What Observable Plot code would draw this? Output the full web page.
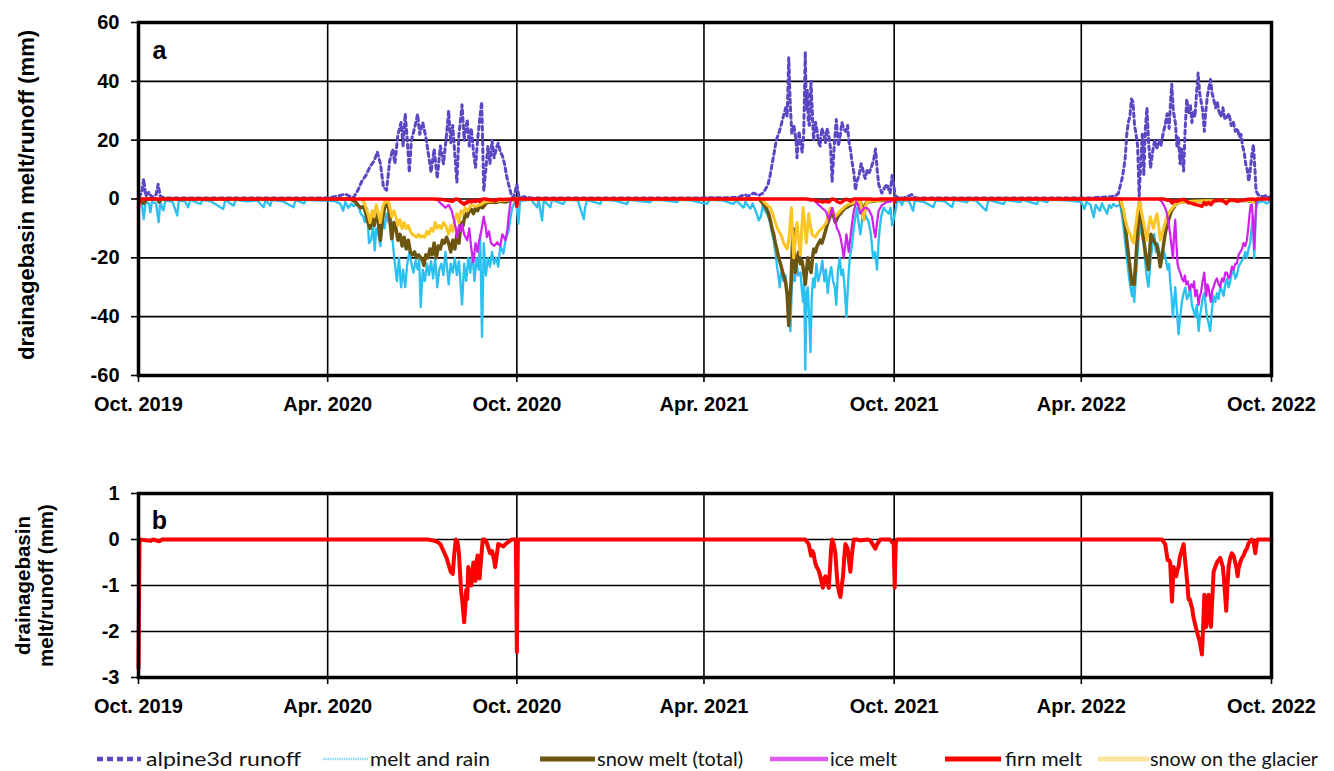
<!DOCTYPE html>
<html><head><meta charset="utf-8">
<script src="https://cdn.jsdelivr.net/npm/d3@7"></script>
<script src="https://cdn.jsdelivr.net/npm/@observablehq/plot@0.6"></script>
<style>
body{margin:0;background:#fff;}
#wrap{position:relative;width:1334px;height:771px;overflow:hidden;background:#fff;}
#wrap > svg{position:absolute;left:0;}
</style></head><body><div id="wrap"></div>
<script>
// ---- axis ticks (days after 1 Oct 2019) ----
const tickDays = [0, 183, 366, 547, 731, 912, 1096];
const tickLabels = ["Oct. 2019","Apr. 2020","Oct. 2020","Apr. 2021","Oct. 2021","Apr. 2022","Oct. 2022"];
const yTicksA = [-60,-40,-20,0,20,40,60];
const yTicksB = [-3,-2,-1,0,1];
const seriesNames = ["alpine3d runoff","melt and rain","snow melt (total)","ice melt","firn melt","snow on the glacier"];

// ---- series: [day after 1 Oct 2019, mm] ----
const runoff = [[0,0.5],[3,2],[5,6.8],[7,1],[10,2.3],[13,0.5],[17,1.5],[19,5],[21,1],[25,0.3],[60,0.3],[120,0.3],[180,0.3],
[186,0.5],[195,1.2],[200,1.7],[205,0.8],[208,0.5],[212,2.8],[216,6],[220,8],[224,11],[228,13],[231,16],[234,12],[237,4],[240,3],[243,13],[246,17],[248,12],[251,22],[254,26],[256,18],[258,29],[260,20],[262,9],[264,20],[267,24],[270,28.8],[272,22],[275,26],[278,21],[281,14],[283,9],[286,17],[289,7],[292,18],[295,12],[298,22],[300,30],[302,19],[304,25],[306,15],[308,5.6],[310,22],[313,32],[315,20],[318,27],[320,18],[322,24],[324,16],[326,10.7],[328,20],[330,27],[332,33],[334,2.8],[336,10],[338,18],[340,12],[342,20],[344,14],[346,17],[348,19],[350,16],[352,14.7],[354,12],[356,8],[358,5],[361,1],[363,0.5],[366,5],[368,1],[371,0.5],
[373,0.8],[380,0.3],[450,0.3],[520,0.3],[580,0.5],[586,1.5],[590,1],[595,2],[600,1.2],[604,2],[606,3],
[609,5],[611,8],[614,14],[617,20],[620,23],[623,27],[626,31],[627.5,28],[629,48],[630.5,32],[632,22],[634,25],[636,20],[637,14],[639,23],[640,20],[642,16],[643.5,22],[645,50],[646,30],[647,37],[648,26],[649,25],[650.5,40],[652,28],[653,20],[655,26],[656.5,23],[658,19],[659.5,18],[661,24],[663,22],[664.5,19],[666,24],[668,21],[669.5,17],[671,6],[673,18],[675,27],[677,18],[679,22],[680.5,26],[682,24],[684,23],[686,25],[687,20],[689,16],[690,13],[692,9],[693.5,3],[695,6],[697,8],[699,12],[700,11],[702,8],[703,7],[705,10],[707,9],[709,11],[711,13],[713,17],[714.5,10],[716,5],[718,3],[719,2],[722,4],[724,5],[726,3],[727,2],[729,8],[730.5,5],[732,1],[735,0.5],[740,0.3],[748,1.5],[751,0.5],[753,0.3],
[800,0.3],[870,0.3],[920,0.3],[930,0.6],[940,0.8],[945,1],
[948,2],[950,5],[951.5,7],[953,10],[954.5,14],[956,22],[957.5,26],[959,28],[960.5,34],[962,33],[963.5,25],[965,22],[966.5,18],[968,1],[969.5,12],[971,22],[972.5,8],[974,24],[975.5,31],[977,20],[979,10.6],[981,16],[983,20],[985,17],[987,20],[989,18],[991,22],[993,25],[995,29],[997,24],[998.5,34],[999.5,39],[1001,30],[1003,26],[1004.5,18],[1006,21],[1007.5,12],[1009,17],[1011,9.5],[1012.5,24],[1014,34],[1016,29],[1017.5,32],[1019,26],[1020.5,30],[1022,28],[1023.5,36],[1025,42.8],[1026.5,36],[1028,33],[1029.5,30],[1031,23],[1032.5,30],[1034,35],[1035.5,38],[1037,40.6],[1038.5,36],[1040,34],[1042,31],[1043.5,33],[1045,30],[1047,28],[1049,31],[1051,27],[1053,28],[1055,29],[1057,25],[1059,26.4],[1061,23],[1063,24],[1065,21],[1066.5,22],[1068,18],[1069.5,16],[1071,12],[1072.5,10],[1074,6],[1075.5,10],[1077,15],[1078.5,18.5],[1080,10],[1081,2.8],[1083,1.5],[1085,1],[1088,0.8],[1091,1.2],[1093,0.6],[1096,0.5]];

const meltRain = [[0,-0.5],[3,-1],[5,-6.8],[7,-1],[10,-1.5],[11.5,-4.5],[13,-1],[17,-1.5],[19.5,-8],[21,-1],[24,-4],[26,-0.5],[33,-1],[37.5,-5.6],[39,-0.5],[45,-0.8],[48,-2.8],[50,-0.3],[60,-1.7],[62,-0.3],[70,-0.8],[82,-3.4],[84,-0.3],[92,-2.3],[94,-0.3],[105,-0.8],[115,-0.5],[121,-2.8],[123,-0.3],[127.5,-2.3],[129,-0.3],[140,-0.8],[150,-2.8],[152,-0.3],[160,-1.5],[162,-0.3],[175,-0.5],[183,-0.5],
[190,-0.8],[195,-1.5],[198,-4],[200,-1],[203,-3],[206,-1.5],[208,-2.5],[212,-1.5],[215,-5],[217.5,-6],[219,-8],[221,-3],[223,-15],[225,-14],[227,-9],[228.5,-17.5],[230,-10],[232,-12],[234,-16],[236,-6],[238,-10],[240,-5],[242,-8],[244,-6],[246,-15],[248,-22],[250,-28],[252,-20],[254,-30],[256,-24],[258,-30],[260,-22],[262,-18],[264,-22],[266,-25],[268,-21],[270,-24],[271.5,-20],[273,-36.7],[275,-24],[277,-28],[279,-22],[281,-26],[283,-21],[285,-27],[287,-20],[289,-30],[291,-24],[293,-22],[295,-26],[297,-18],[300,-29],[302,-22],[304,-25],[306,-20],[308,-26],[310,-21],[313,-36],[315,-22],[317,-28],[319,-20],[321,-25],[323,-18],[325,-28],[327,-20],[329,-24],[330.5,-12],[332.3,-47],[334,-15],[336,-26],[338,-20],[340,-23],[342,-18],[344,-22],[346,-20],[348,-23],[350,-16],[353,-18.6],[355,-14],[358,-10.7],[360,-6],[361.5,-3],[364,-1],[366,-3],[367.5,-8.5],[369,-1],
[372,-0.5],[380,-0.3],[385.5,-2.8],[387,-0.3],[390.4,-7.3],[392,-0.5],[398.4,-2.8],[400,-0.3],[411,-1.7],[413,-0.3],[425,-0.5],[430.7,-6.8],[432,-3],[434,-0.3],[446.8,-1.7],[448,-0.3],[460,-0.5],[472.6,-1.7],[474,-0.3],[495,-1.1],[497,-0.3],[510,-0.5],[521,-1.1],[523,-0.3],[535,-0.5],[550,-1.7],[552,-0.3],[565,-0.5],[575.7,-1.7],[578,-0.5],[585.5,-3],[587,-1],[592,-3.4],[594,-1.5],[598,-5],[600,-7.3],[602,-6],[604,-2],[606,-4],[608,-5],
[611,-8],[613,-12],[614.5,-14],[616,-18],[617.7,-23],[619,-26],[620.3,-30],[622,-24],[624,-28],[626,-26],[627.4,-33],[629,-36],[630.6,-45],[632,-30],[633.5,-25],[635,-28],[636.4,-20],[638,-26],[640.3,-25],[641.5,-30],[642.9,-35],[644,-28],[645,-58],[646.3,-32],[647.4,-30],[648.8,-40],[650,-52],[651.3,-33],[652.5,-27],[654,-30],[655.8,-22],[657.5,-28],[659.6,-25],[661.5,-21],[663.5,-28],[665,-24],[666.7,-32],[668.5,-26],[670,-23],[672,-28],[673.5,-30],[675,-36],[676.5,-25],[678.3,-20],[680,-26],[681.5,-24],[683,-30],[684.8,-40],[686.5,-28],[688,-20],[690,-16],[691.9,-10],[693.5,-6],[695,-3],[696.5,-8],[698.3,-12],[700,-7],[702,-5],[704,-6],[706.4,-8],[708.5,-12],[710.6,-20],[712.5,-18],[714.4,-24],[716,-14],[717.6,-8],[719,-5],[720.9,-3],[723,-4],[725.7,-5],[727.5,-3],[729,-9],[731.2,-6],[733.8,-1],[736,-0.5],[738.6,-2],[740,-0.5],
[745,-0.5],[749.3,-4],[751,-0.5],[760,-1],[769,-2.8],[771,-0.5],[780,-0.8],[787,-2.8],[789,-0.3],[801.5,-1.1],[803,-0.3],[810,-0.5],[820,-4],[822,-0.3],[837,-1.7],[839,-0.3],[853,-1.1],[855,-0.3],[869,-1.7],[871,-0.3],[879,-1.1],[881,-0.3],[900,-0.5],[912,-1],[915,-3.4],[917,-1],[921,-2],[924,-6.2],[926,-2],[928,-3],[930,-4],[932,-1.5],[934,-3],[937,-5],[939,-2],[941,-3],[943,-1.7],[946,-2.5],[949.7,-2],
[951.5,-6],[953,-10],[954.5,-15],[956,-20],[957.3,-24],[958.7,-28],[960,-31],[961,-33],[962,-30],[963.2,-35],[964.5,-28],[965.8,-22],[967.3,-14],[969,-8],[970.5,-12],[972.3,-15],[973.5,-20],[974.8,-25],[976,-28],[977,-30],[978.2,-24],[979.3,-20],[981,-15],[982.6,-12],[984.2,-18],[985.8,-15],[987.5,-18],[989,-22],[990.5,-20],[992.2,-18],[994,-21],[995.5,-24],[997,-22],[998,-28],[999.3,-33],[1000.6,-40],[1002,-34],[1002.9,-30],[1004.5,-38],[1006.1,-46],[1007.7,-40],[1009.3,-35],[1011,-32],[1012.6,-30],[1014.2,-34],[1015.8,-33],[1017.4,-30],[1019,-36],[1020.6,-38],[1022.2,-40],[1023.8,-36],[1025.5,-45],[1026.7,-40],[1027.7,-38],[1029.3,-34],[1031,-32],[1032.3,-36],[1033.5,-40],[1035,-42],[1036.7,-45],[1038.3,-38],[1040,-33],[1041.6,-35],[1043.2,-32],[1044.8,-34],[1046.4,-30],[1048,-31],[1049.6,-33],[1051.3,-29],[1052.9,-27],[1054.5,-30],[1056,-28],[1057.7,-25],[1059.3,-24],[1061,-27],[1062.5,-26],[1064.2,-23],[1065.8,-22],[1067.4,-21],[1069,-20],[1070.6,-18],[1072.2,-20],[1073.8,-17],[1075.4,-15],[1076.7,-10],[1078,-6],[1079.3,-20],[1080.3,-10],[1081.2,-3],[1083,-1],[1085,-1],[1088,-0.8],[1091.5,-1.5],[1094,-0.8],[1096,-1]];

const snowMelt = [[0,0],[3,-1],[5,-1.5],[8,0],[18,0],[20,-1],[22,0],
[205,0],[210,-1],[212,-2],[215,-3],[218,-2.5],[220,-5],[222,-8],[224,-10],[226,-6],[228,-9],[230,-4],[232,-8],[234,-14],[236,-7],[238,-3],[240,-2],[242,-3],[245,-13.5],[247,-8],[249,-10],[251,-14],[253,-12],[255,-16],[257,-13],[259,-17],[261,-14],[263,-18],[265,-19],[267,-18],[269,-20],[271,-19],[273,-20],[275,-21],[276,-22.6],[278,-19],[280,-20],[282,-17],[284,-19],[286,-15],[288,-20],[290,-16],[292,-17],[294,-14],[296,-15],[298,-13],[300,-15],[302,-18],[304,-14],[306,-17],[308,-12],[310,-15],[312,-8],[314,-9],[316,-5],[318,-6],[320,-4],[322,-3.5],[324,-5],[326,-3],[328,-4],[330,-2.5],[333,-3],[336,-1.5],[340,-1],[345,-1.2],[350,-0.8],[355,-1],[360,-0.5],[364,0],
[600,0],[603,-1],[605,-2],[607,-3],[609.6,-5],[611,-7],[612.9,-10],[614.5,-12],[616,-15],[617.5,-17],[619.3,-20],[621,-22],[622.5,-24],[624,-26],[625.8,-28],[627.4,-32],[629,-43],[630.2,-34],[631.3,-28],[632.3,-18],[633.2,-10],[634.3,-18],[635.4,-25],[637,-20],[638.7,-18],[640.3,-22],[641.9,-21],[643.5,-25],[645.1,-29],[646.3,-24],[647.4,-20],[649,-23],[650.6,-25],[652,-20],[653.2,-17],[655,-18],[656.4,-16],[658,-15],[659.6,-14],[661.2,-15],[662.8,-13],[664.5,-11],[666,-9],[668,-7],[670.9,-4],[672.5,-6],[674.1,-8],[676.5,-6],[679,-5],[681,-4],[683.8,-3],[687,-2.5],[691.9,-1.5],[695,-1.2],[698.3,-1],[700,-3],[701.5,-7],[703,-2],[704.7,-1],[710,-0.8],[714.4,-0.5],[720,-0.5],[725,-0.3],[730,0],
[949,0],[951,-2],[953,-5],[954.5,-9],[956,-14],[957.3,-18],[958.7,-22],[960,-26],[961,-29],[962,-27],[963.2,-29],[964.5,-22],[965.8,-15],[967,-8],[968.3,-1],[970,-6],[971.6,-12],[973.2,-16],[974.8,-20],[976,-22],[977,-24],[978.2,-18],[979.3,-12],[980.6,-13],[981.9,-14],[983.5,-15],[985.2,-16],[986.8,-19],[988.4,-23],[989.7,-20],[991,-17],[992.6,-13],[994.2,-10],[995.8,-8],[997.4,-6],[999.3,-4],[1001.3,-3],[1002.9,-2],[1004.5,-1.5],[1008,-1],[1015,-0.8],[1025,-0.6],[1040,-0.5],[1055,-0.5],[1070,-0.4],[1078,-0.8],[1079.3,-1],[1081,-0.3],[1085,0]];

const snowGlacier = [[215,0],[218,-1],[220,-3],[222,-5],[224,-8],[226,-4],[228,-6],[230,-2],[232,-5],[234,-8],[236,-3],[238,-1],[242,-1],[245,-6],[247,-4],[249,-6],[251,-9],[253,-7],[255,-10],[257,-8],[259,-10],[261,-9],[263,-11],[265,-12],[267,-12.5],[269,-13],[271,-12],[273,-13],[275,-12.5],[277,-13],[279,-11],[281,-12],[283,-10],[285,-11],[287,-8],[289,-10],[291,-9],[293,-10],[295,-8],[297,-9],[300,-12],[302,-9],[304,-11],[306,-7],[308,-5],[310,-8],[312,-4],[314,-5],[316,-3],[318,-4],[320,-3],[322,-2],[326,-2.5],[330,-2],[335,-1],[340,-0.8],[350,-0.6],[360,-0.3],[364,0],
[603,0],[605,-1],[608,-2],[611.3,-3],[613.5,-5],[616,-8],[618,-10],[621,-12],[622.5,-13],[624,-15],[625.8,-16],[627.4,-17],[628.5,-15],[629.6,-12],[630.6,-7],[631.6,-3],[632.7,-12],[633.8,-20],[635.4,-14],[637,-8],[638.7,-14],[640.3,-19],[641.6,-10],[642.9,-3],[644.5,-9],[646,-15],[647.2,-10],[648.3,-5],[650,-9],[651.6,-12],[653.2,-12.5],[654.8,-13],[656.4,-12],[658,-11],[659.6,-10.5],[661.2,-10],[663.3,-9],[665.4,-8],[667.4,-5],[669.3,-3],[671.7,-4],[674.1,-6],[676.5,-5],[679,-4],[682,-3],[685.4,-2],[690,-1.5],[695,-1],[698.3,-1],[700,-4],[701.5,-7],[702.8,-3],[704.7,-1],[710,-0.6],[714.4,-0.5],[720,-0.3],[725,-0.2],[730,0],
[950,0],[951.3,-2],[953,-4],[954.5,-7],[956,-9],[957.7,-11],[959.4,-12],[961,-14],[962.6,-15],[964.2,-10],[965.8,-6],[967,-3],[968.3,-1],[970,-4],[972.3,-8],[974,-11],[975.5,-14],[977,-10],[978.7,-6],[980.3,-8],[981.9,-10],[983.5,-7],[985.2,-5],[986.8,-9],[988.4,-14],[990,-12],[991.6,-10],[993.2,-8],[994.8,-6],[996.4,-5],[998,-4],[1000.5,-3],[1002.9,-2],[1006,-1.2],[1010,-1],[1020,-0.8],[1030,-0.6],[1045,-0.5],[1060,-0.4],[1070,-0.4],[1076,-0.5],[1078,-1],[1079.3,-1.2],[1081,-0.3],[1085,0]];

const iceMelt = [[288,0],[291,-1],[294,-2],[297,-3],[300,-2],[303,-4],[305,-7],[307,-10],[308,-13],[310,-9],[312,-11],[313,-8.5],[315,-12],[318,-14],[320,-10],[322,-17],[324,-21.5],[326,-15],[328,-18],[329,-15],[331,-12],[333,-8],[334,-6],[336,-10],[337,-13],[339,-11],[341,-15],[344,-16],[347,-14.7],[350,-16],[352,-12],[355,-14],[357,-10],[358,-6],[360,-0.5],[362,0],
[653,0],[655,-1],[658,-2],[661,-3],[664.5,-4],[666,-5],[667.7,-7],[669.3,-5],[671,-3],[673,-6],[675.7,-10],[677.3,-11],[679,-13],[680.6,-16],[682.2,-20],[683.5,-16],[684.8,-12],[686,-15],[687,-18],[688.7,-13],[690.3,-8],[692,-4],[694.4,-1],[696,-2],[698.3,-5],[700,-4],[702,-3],[704.7,-3],[707,-4],[709.6,-6],[711.2,-10],[712.8,-13],[714.4,-8],[716,-4],[719.3,-2],[722,-1.5],[724,-1],[727,-1],[730,0],
[987,0],[988.4,-0.5],[990,-1],[991.6,-2],[993,-3],[994.2,-4],[995.3,-6],[996.4,-8],[997.2,-10],[998,-12],[999.3,-16],[1000.6,-20],[1001.8,-12],[1002.9,-7],[1004,-15],[1005.1,-22],[1006.4,-24],[1007.7,-25],[1009.3,-27],[1010.9,-28],[1012.2,-26],[1013.5,-29],[1015.1,-28],[1016.7,-31],[1018.4,-29],[1020,-30],[1021.1,-28],[1022.2,-33],[1023.8,-31],[1025.5,-36],[1026.6,-33],[1027.7,-32],[1029.3,-28],[1031,-25],[1032,-30],[1032.9,-33],[1034,-29],[1035.1,-30],[1036.3,-33],[1037.4,-35],[1038.7,-31],[1040,-30],[1041.6,-28],[1043.2,-27],[1044.8,-29],[1046.4,-30],[1048,-27],[1049.6,-28],[1051.3,-25],[1052.9,-25],[1054.5,-27],[1056,-26],[1057.7,-23],[1059.3,-24],[1061,-22],[1062.5,-22],[1064.2,-19],[1065.8,-18],[1067.4,-17],[1069,-15],[1070.6,-16],[1072.2,-14],[1073.5,-10],[1074.8,-5],[1076,-2],[1077,-2],[1078.2,-8],[1079.3,-17],[1080.3,-8],[1081.2,-1],[1083,0]];

const firnMelt = [[0,-2.8],[1,0],[12,-0.03],[14,0],[20,-0.04],[23,0],[280,0],
[285,-0.02],[289,-0.05],[292,-0.1],[294,-0.2],[296,-0.3],[298,-0.4],[300,-0.55],[302,-0.7],[304,-0.75],[305.5,-0.3],[307,0],[308.5,-0.05],[310,-0.3],[312,-1.1],[313.5,-1.4],[315,-1.8],[316,-1.5],[317,-1.1],[318,-1.3],[319,-0.6],[320.5,-0.8],[322,-1.0],[323,-0.7],[324,-0.5],[325,-0.8],[326,-0.9],[327,-0.5],[328,-0.35],[329,-0.6],[330,-0.85],[331.5,-0.4],[333,0],[335,0],[336.5,-0.05],[338,-0.15],[340,-0.3],[342,-0.25],[344,-0.45],[345,-0.6],[346.5,-0.35],[348,-0.1],[350,-0.12],[353,-0.15],[356,-0.08],[358,-0.05],[361,0],[365,0],[366,-2.45],[367,0],
[645,0],[648.3,-0.1],[650.6,-0.35],[652,-0.25],[653,-0.3],[654.5,-0.5],[656,-0.6],[657.5,-0.65],[659,-0.75],[660.5,-0.9],[662,-1.05],[663.3,-0.85],[664.5,-0.8],[666,-0.9],[667.7,-1.05],[669,-0.6],[670,-0.2],[671,0],[672.5,-0.1],[674.1,-0.3],[675.3,-0.7],[676.4,-1.0],[677.8,-1.15],[679,-1.25],[680.3,-1.0],[681.5,-0.8],[682.7,-0.4],[683.8,-0.1],[685,-0.15],[686,-0.2],[687.3,-0.45],[688.6,-0.7],[690,-0.35],[691.9,0],[695,0],[698,-0.02],[705,0],[708,-0.02],[710,-0.1],[712.8,-0.2],[714.5,-0.1],[717.6,0],[727,0],[730.5,-0.1],[731.5,-1.05],[732.5,-0.1],[733.5,0],
[990,0],[993.2,-0.1],[995.5,-0.45],[997,-0.45],[998,-0.5],[999.7,-1.35],[1001.3,-0.6],[1002.5,-0.7],[1003.8,-0.8],[1005,-0.65],[1006.1,-0.6],[1007.2,-0.4],[1008.4,-0.3],[1009.7,-0.2],[1011,-0.1],[1012.2,-0.4],[1013.5,-0.7],[1014.7,-1.0],[1015.8,-1.3],[1017,-1.3],[1018,-1.4],[1019.3,-1.5],[1020.6,-1.7],[1022.2,-1.85],[1023.8,-2.0],[1025,-2.1],[1026.4,-2.2],[1027.6,-2.35],[1028.7,-2.5],[1029.9,-1.9],[1031,-1.2],[1032,-1.5],[1032.9,-1.9],[1034,-1.5],[1035.1,-1.2],[1036.2,-1.6],[1037.4,-1.9],[1038.7,-1.3],[1040,-0.7],[1041.6,-0.6],[1043.2,-0.5],[1044.8,-0.45],[1046.4,-0.4],[1047.7,-0.5],[1049,-0.6],[1050.5,-1.0],[1052.2,-1.55],[1053.4,-1.0],[1054.5,-0.6],[1056,-0.4],[1057.7,-0.3],[1059.3,-0.35],[1060.9,-0.5],[1062,-0.6],[1063.2,-0.8],[1064.4,-0.6],[1065.7,-0.5],[1067.4,-0.4],[1069,-0.35],[1070.6,-0.25],[1072.2,-0.2],[1073.5,-0.1],[1074.8,-0.05],[1077,0],[1078.5,-0.05],[1080.3,-0.3],[1081.5,-0.1],[1082.5,0],[1096,0]];

// ---- helpers / styling ----
const START = Date.UTC(2019, 9, 1);
const toDate = d => new Date(START + d * 864e5);
const tickDates = tickDays.map(toDate);
const fmtX = d => tickLabels[tickDates.findIndex(t => +t === +d)];
const FONT = "'Liberation Sans', Arial, sans-serif";
const C = {runoff:"#5A47C3", melt:"#2CC0F0", snow:"#6B5510", ice:"#CF20EE", firn:"#FF0000", glacier:"#FBC525", glacierLegend:"#FCE3A2"};
const X = d => toDate(d[0]), Y = d => d[1];

function panel({height, marginTop, marginBottom, yDomain, yTicks, marks}) {
  return Plot.plot({
    width: 1334, height, marginLeft: 138, marginRight: 63, marginTop, marginBottom,
    style: {fontFamily: FONT, fontSize: "20px", fontWeight: "bold", color: "#000", background: "transparent", overflow: "visible"},
    x: {type: "utc", domain: [toDate(0), toDate(1096)]},
    y: {domain: yDomain},
    marks: [
      Plot.gridX(tickDates, {stroke: "#000", strokeOpacity: 1, strokeWidth: 1.6}),
      Plot.gridY(yTicks, {stroke: "#000", strokeOpacity: 1, strokeWidth: 1.6}),
      ...marks,
      Plot.frame({stroke: "#000", strokeWidth: 3.5}),
      Plot.axisX(tickDates, {tickFormat: fmtX, tickSize: 7, tickPadding: 14, strokeWidth: 1.6, label: null}),
      Plot.axisY(yTicks, {tickFormat: d => String(d), tickSize: 7, tickPadding: 12, strokeWidth: 1.6, label: null})
    ]
  });
}

const wrap = document.getElementById("wrap");

const a = panel({
  height: 420, marginTop: 22, marginBottom: 45, yDomain: [-60, 60], yTicks: yTicksA,
  marks: [
    Plot.line(meltRain, {x: X, y: Y, stroke: C.melt, strokeWidth: 2.4, strokeDasharray: "2.5,1.2"}),
    Plot.line(snowMelt, {x: X, y: Y, stroke: C.snow, strokeWidth: 3.5}),
    Plot.line(snowGlacier, {x: X, y: Y, stroke: C.glacier, strokeWidth: 3}),
    Plot.line(iceMelt, {x: X, y: Y, stroke: C.ice, strokeWidth: 2.2}),
    Plot.line(runoff, {x: X, y: Y, stroke: C.runoff, strokeWidth: 3, strokeDasharray: "4,3.5"}),
    Plot.line(firnMelt, {x: X, y: Y, stroke: C.firn, strokeWidth: 3.5}),
    Plot.text(["a"], {frameAnchor: "top-left", dx: 21, dy: 28, lineAnchor: "middle", textAnchor: "middle", fontSize: 25}),
    Plot.text(["drainagebasin melt/runoff (mm)"], {frameAnchor: "left", dx: -112, dy: -4, rotate: -90, textAnchor: "middle", lineAnchor: "middle", fontSize: 22})
  ]
});
a.style.top = "0px";
wrap.appendChild(a);

const b = panel({
  height: 250, marginTop: 23, marginBottom: 43, yDomain: [-3, 1], yTicks: yTicksB,
  marks: [
    Plot.line(firnMelt, {x: X, y: Y, stroke: C.firn, strokeWidth: 4}),
    Plot.text(["b"], {frameAnchor: "top-left", dx: 21, dy: 27, lineAnchor: "middle", textAnchor: "middle", fontSize: 25}),
    Plot.text(["drainagebasin\nmelt/runoff (mm)"], {frameAnchor: "left", dx: -104, rotate: -90, textAnchor: "middle", lineAnchor: "middle", fontSize: 20.5, lineHeight: 1.1})
  ]
});
b.style.top = "470px";
wrap.appendChild(b);

// ---- legend ----
const legendItems = [
  {name: seriesNames[0], color: C.runoff, dash: "6,4", w: 4.5, x0: 97, x1: 141, tx: 146, tw: 155},
  {name: seriesNames[1], color: "#8ED9F6", dash: "1.5,0.8", w: 2.5, x0: 323, x1: 368, tx: 370, tw: 120},
  {name: seriesNames[2], color: C.snow, dash: null, w: 5, x0: 540, x1: 595, tx: 597, tw: 146},
  {name: seriesNames[3], color: "#E05BF2", dash: null, w: 4.5, x0: 770, x1: 828, tx: 830, tw: 67},
  {name: seriesNames[4], color: C.firn, dash: null, w: 5, x0: 945, x1: 1001, tx: 1005, tw: 77},
  {name: seriesNames[5], color: C.glacierLegend, dash: null, w: 5, x0: 1098, x1: 1149, tx: 1150, tw: 168}
];
const leg = d3.create("svg").attr("width", 1334).attr("height", 31)
  .style("top", "740px").style("font-family", "Lato, 'Open Sans', sans-serif").style("font-size", "20px");
const g = leg.selectAll("g").data(legendItems).join("g");
g.append("line").attr("x1", d => d.x0).attr("x2", d => d.x1).attr("y1", 19).attr("y2", 19)
  .attr("stroke", d => d.color).attr("stroke-width", d => d.w).attr("stroke-dasharray", d => d.dash);
g.append("text").attr("x", d => d.tx).attr("y", 26).attr("fill", "#111")
  .attr("textLength", d => d.tw).attr("lengthAdjust", "spacingAndGlyphs").text(d => d.name);
wrap.appendChild(leg.node());
</script></body></html>
